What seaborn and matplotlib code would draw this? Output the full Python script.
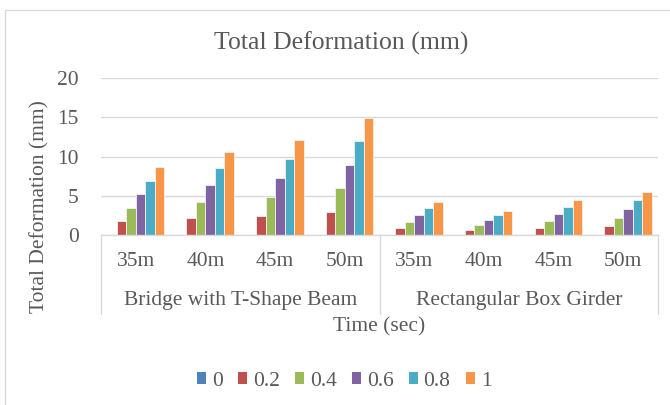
import numpy as np
import pandas as pd
import matplotlib
matplotlib.use("Agg")
import matplotlib.pyplot as plt
import matplotlib.transforms as mtransforms
from matplotlib.patches import Rectangle
import seaborn as sns

# Span lengths per girder type, and the two girder types
spans = ["35m", "40m", "45m", "50m"]
groups = ["Bridge with T-Shape Beam", "Rectangular Box Girder"]
series = ["0", "0.2", "0.4", "0.6", "0.8", "1"]

# Total deformation (mm) per series, for 8 categories (4 spans x 2 girder types)
s_0 = [0, 0, 0, 0, 0, 0, 0, 0]
s_02 = [1.73, 2.12, 2.41, 2.98, 0.85, 0.62, 0.9, 1.1]
s_04 = [3.46, 4.24, 4.82, 5.96, 1.7, 1.25, 1.8, 2.2]
s_06 = [5.19, 6.36, 7.23, 8.94, 2.55, 1.87, 2.7, 3.3]
s_08 = [6.92, 8.48, 9.64, 11.92, 3.4, 2.5, 3.6, 4.4]
s_1 = [8.65, 10.6, 12.05, 14.9, 4.25, 3.12, 4.5, 5.45]

values = [s_0, s_02, s_04, s_06, s_08, s_1]
colors = ["#4F81BD", "#C0504D", "#9BBB59", "#8064A2", "#4BACC6", "#F79646"]

cat_idx = list(range(len(spans) * len(groups)))
rows = []
for name, vals in zip(series, values):
    for i, v in zip(cat_idx, vals):
        rows.append({"cat": i, "series": name, "value": v})
df = pd.DataFrame(rows)

sns.set_theme(style="white")
plt.rcParams["font.family"] = ["Liberation Serif", "DejaVu Serif"]
text_c = "#595959"
grid_c = "#D9D9D9"
fs = 15.5

fig = plt.figure(figsize=(6.7, 4.05), dpi=100)
ax = fig.add_axes([101 / 670, 1 - 235 / 405, 557 / 670, 157 / 405])

sns.barplot(data=df, x="cat", y="value", hue="series", hue_order=series,
            palette=colors, width=0.82, ax=ax, legend=False,
            edgecolor="#F2F2F2", linewidth=0.6, saturation=1)

ax.set_ylim(0, 20)
ax.set_yticks([0, 5, 10, 15, 20])
ax.set_xlim(-0.5, 7.5)
ax.yaxis.grid(True, color=grid_c, linewidth=1)
ax.set_axisbelow(True)
for s in ["left", "right", "top"]:
    ax.spines[s].set_visible(False)
ax.spines["bottom"].set_color(grid_c)
ax.spines["bottom"].set_linewidth(1)
ax.tick_params(axis="y", length=0, labelsize=fs, colors=text_c, pad=16)
ax.set_xticks(cat_idx)
ax.set_xticklabels(spans * len(groups))
ax.tick_params(axis="x", length=0, labelsize=fs, colors=text_c, pad=12)
ax.set_xlabel("")
ax.set_ylabel("")

# Separators of the two-level category axis
trans = mtransforms.blended_transform_factory(ax.transData, ax.transAxes)
for xv in [-0.5, 3.5, 7.5]:
    ax.plot([xv, xv], [0, -0.5], transform=trans, color=grid_c,
            linewidth=1, clip_on=False)
for gi, g in enumerate(groups):
    ax.text(gi * 4 + 1.5, -0.42, g, transform=trans, ha="center", va="center",
            fontsize=fs, color=text_c)

fig.text(0.5 * (101 + 658) / 670, 1 - 327 / 405, "Time (sec)", ha="center",
         va="center", fontsize=fs, color=text_c)
fig.text(40 / 670, 1 - 207 / 405, "Total Deformation (mm)", rotation=90,
         ha="center", va="center", fontsize=fs, color=text_c)
fig.text(341 / 670, 1 - 43 / 405, "Total Deformation (mm)",
         ha="center", va="center", fontsize=18.5, color=text_c)

handles = [Rectangle((0, 0), 1, 1, facecolor=c, edgecolor="none") for c in colors]
fig.legend(handles, series, loc="center", bbox_to_anchor=(344 / 670, 1 - 381 / 405),
           ncol=6, frameon=False, fontsize=fs, handlelength=0.45, handleheight=0.45,
           handletextpad=0.25, columnspacing=0.7, labelcolor=text_c)

# Chart area border
fig.add_artist(Rectangle((5 / 670, -0.1), 1.2, 1 - 10 / 405 + 0.1,
                         transform=fig.transFigure, fill=False,
                         edgecolor=grid_c, linewidth=1))

fig.savefig("out.png", dpi=100, facecolor="white")
